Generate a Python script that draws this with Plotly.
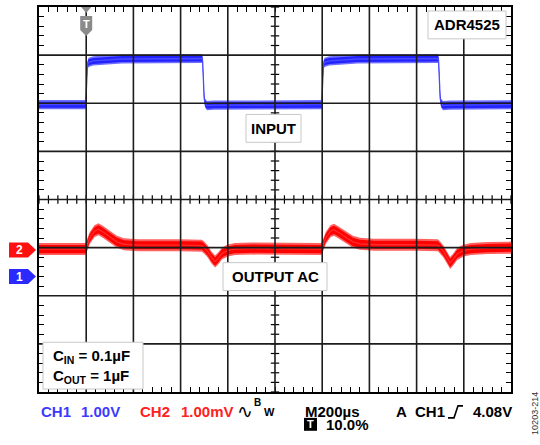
import plotly.graph_objects as go

# ---------------- data ----------------
# time base: 200 us/div, 10 divisions
time_ch1_us = [0, 198, 200, 202, 205, 210, 230, 350, 690, 693, 697, 700, 704, 712, 740, 1000,
               1198, 1200, 1202, 1205, 1210, 1230, 1350, 1690, 1693, 1697, 1700, 1704, 1712, 1740, 2000]
ch1_volts = [3.57, 3.57, 3.80, 4.20, 4.38, 4.45, 4.48, 4.52, 4.53, 4.50, 4.00, 3.70, 3.60, 3.55, 3.56, 3.57,
             3.57, 3.80, 4.20, 4.38, 4.45, 4.48, 4.52, 4.53, 4.50, 4.00, 3.70, 3.60, 3.55, 3.56, 3.57]

time_ch2_us = [0, 195, 200, 215, 235, 252, 270, 300, 330, 360, 420, 600, 690, 700, 715, 730, 746, 760,
               775, 800, 830, 900, 1000,
               1195, 1200, 1215, 1235, 1250, 1268, 1300, 1330, 1360, 1420, 1600, 1690, 1700, 1715, 1728,
               1742, 1756, 1772, 1800, 1830, 1900, 2000]
ch2_mv = [-0.03, -0.03, 0.00, 0.20, 0.34, 0.38, 0.33, 0.22, 0.12, 0.07, 0.05, 0.05, 0.04, 0.00, -0.08,
          -0.20, -0.29, -0.22, -0.12, -0.06, -0.03, -0.02, -0.02,
          -0.03, 0.00, 0.20, 0.34, 0.37, 0.32, 0.21, 0.12, 0.08, 0.06, 0.06, 0.05, 0.00, -0.09, -0.20,
          -0.32, -0.24, -0.13, -0.06, -0.03, -0.01, 0.00]

bottom_labels = ["CH1", "1.00V", "CH2", "1.00mV", "M200µs", "A", "CH1", "4.08V", "10.0%"]

# ---------------- styling / geometry ----------------
W, H = 540, 445
L, R, T, B = 39, 29, 5, 53
PW, PH = W - L - R, H - T - B
X_RANGE = [0, 2000]
CH2_RANGE = [-3, 5]        # 1 mV/div, offset -1 div
CH1_RANGE = [-2.4, 5.6]    # 1 V/div, offset -1.6 div
BLUE = "#2222ff"
BLUE_FR = "#6f6fff"
RED = "#ff0000"
RED_FR = "#ff6060"
GRID = "#1c1c1c"
FONT = "Liberation Sans, Arial, sans-serif"


def px(x):
    return (x - L) / PW


def py(y):
    return (H - B - y) / PH


def band(fig, t, v, core, fringe, c_core, c_fr, c_line, yaxis):
    for hw, col in ((fringe, c_fr), (core, c_core)):
        fig.add_trace(go.Scatter(x=t, y=[a - hw for a in v], mode="lines", line=dict(width=0),
                                 yaxis=yaxis, hoverinfo="skip", showlegend=False))
        fig.add_trace(go.Scatter(x=t, y=[a + hw for a in v], mode="lines", line=dict(width=0),
                                 fill="tonexty", fillcolor=col, yaxis=yaxis,
                                 hoverinfo="skip", showlegend=False))
    fig.add_trace(go.Scatter(x=t, y=v, mode="lines", line=dict(width=1.3, color=c_line),
                             yaxis=yaxis, hoverinfo="skip", showlegend=False))


fig = go.Figure()
band(fig, time_ch1_us, ch1_volts, 0.062, 0.095, BLUE, BLUE_FR, "#4a4aff", "y2")
band(fig, time_ch2_us, ch2_mv, 0.085, 0.125, RED, RED_FR, "#ff2a2a", "y")

# center crosshair ticks
cx = [X_RANGE[0] + 40 * i for i in range(51)]
fig.add_trace(go.Scatter(x=cx, y=[1] * len(cx), mode="markers", yaxis="y",
                         marker=dict(symbol="line-ns", size=6, line=dict(width=1.2, color="black")),
                         hoverinfo="skip", showlegend=False))
cy = [CH2_RANGE[0] + 0.2 * i for i in range(41)]
fig.add_trace(go.Scatter(x=[1000] * len(cy), y=cy, mode="markers", yaxis="y",
                         marker=dict(symbol="line-ew", size=6, line=dict(width=1.2, color="black")),
                         hoverinfo="skip", showlegend=False))

shapes = []
for k in range(1, 10):
    shapes.append(dict(type="line", xref="x", yref="paper", x0=200 * k, x1=200 * k, y0=0, y1=1,
                       line=dict(color=GRID, width=1.6), layer="above"))
for k in range(1, 8):
    shapes.append(dict(type="line", xref="paper", yref="y", x0=0, x1=1, y0=CH2_RANGE[0] + k,
                       y1=CH2_RANGE[0] + k, line=dict(color=GRID, width=1.6), layer="above"))


def rect(x0, y0, x1, y1):
    shapes.append(dict(type="rect", xref="paper", yref="paper", x0=px(x0), x1=px(x1), y0=py(y1), y1=py(y0),
                       fillcolor="white", line=dict(color="#c8c8c8", width=1), layer="above"))


rect(428, 9, 506, 37)
rect(246, 113, 301, 141)
rect(223, 262, 327, 290)
rect(43, 342, 143, 389)

# channel markers
shapes.append(dict(type="path", xref="paper", yref="y", xsizemode="pixel", ysizemode="pixel",
                   xanchor=0, yanchor=-0.05, path="M -30,7.5 L -11,7.5 L -3,0 L -11,-7.5 L -30,-7.5 Z",
                   fillcolor="#ff1010", line=dict(width=0), layer="above"))
shapes.append(dict(type="path", xref="paper", yref="y2", xsizemode="pixel", ysizemode="pixel",
                   xanchor=0, yanchor=0, path="M -30,7.5 L -11,7.5 L -3,0 L -11,-7.5 L -30,-7.5 Z",
                   fillcolor="#2a2aff", line=dict(width=0), layer="above"))
# trigger marker
shapes.append(dict(type="path", xref="x", yref="paper", xsizemode="pixel", ysizemode="pixel",
                   xanchor=200, yanchor=1, path="M -5,0 L 5,0 L 0,-6 Z",
                   fillcolor="#8a8a8a", line=dict(width=0), layer="above"))
shapes.append(dict(type="path", xref="x", yref="paper", xsizemode="pixel", ysizemode="pixel",
                   xanchor=200, yanchor=1,
                   path="M -6,-9 L 6,-9 L 6,-23 L 0,-29 L -6,-23 Z",
                   fillcolor="#8a8a8a", line=dict(width=0), layer="above"))
# trigger slope glyph in the status line
shapes.append(dict(type="path", xref="paper", yref="paper", xsizemode="pixel", ysizemode="pixel",
                   xanchor=px(448), yanchor=py(418),
                   path="M 0,0 L 6,0 L 10,12 L 15,12", line=dict(color="black", width=1.6)))
# black trigger-position box
shapes.append(dict(type="rect", xref="paper", yref="paper", x0=px(304), x1=px(317), y0=py(431), y1=py(418),
                   fillcolor="black", line=dict(width=0)))

ann = []


def text(s, x, y, color="black", size=15, xanchor="left", bold=True, **kw):
    ann.append(dict(text=f"<b>{s}</b>" if bold else s, x=px(x), y=py(y), xref="paper", yref="paper",
                    xanchor=xanchor, yanchor="middle", showarrow=False,
                    font=dict(family=FONT, size=size, color=color), **kw))


text("ADR4525", 467, 23, xanchor="center")
text("INPUT", 273.5, 127, xanchor="center")
text("OUTPUT AC", 275, 276, xanchor="center")
ann.append(dict(text="<b>C<sub>IN</sub> = 0.1µF<br>C<sub>OUT</sub> = 1µF</b>", x=px(51), y=py(366),
                xref="paper", yref="paper", xanchor="left", yanchor="middle", align="left",
                showarrow=False, font=dict(family=FONT, size=15, color="black")))

# marker labels
ann.append(dict(text="<b>2</b>", x=0, y=-0.05, xref="paper", yref="y", xshift=-20, showarrow=False,
                xanchor="center", yanchor="middle", font=dict(family=FONT, size=12, color="white")))
ann.append(dict(text="<b>1</b>", x=0, y=0, xref="paper", yref="y2", xshift=-20, showarrow=False,
                xanchor="center", yanchor="middle", font=dict(family=FONT, size=12, color="white")))
ann.append(dict(text="<b>T</b>", x=200, y=1, xref="x", yref="paper", yshift=-17, showarrow=False,
                xanchor="center", yanchor="middle", font=dict(family=FONT, size=11, color="white")))

# status line
text(bottom_labels[0], 39, 412, color="#3b3bff")
text(bottom_labels[1], 79, 412, color="#3b3bff")
text(bottom_labels[2], 138, 412, color="#ff2020")
text(bottom_labels[3], 179, 412, color="#ff2020")
text("∿", 235, 411, size=19, bold=False, font_family="DejaVu Sans")
text("B", 252, 403, size=10)
text("W", 262, 412, size=11)
text(bottom_labels[4], 303, 412)
text(bottom_labels[5], 394, 412)
text(bottom_labels[6], 413, 412)
text(bottom_labels[7], 471, 412)
ann.append(dict(text="<b>T</b>", x=px(310.5), y=py(424.5), xref="paper", yref="paper", showarrow=False,
                xanchor="center", yanchor="middle", font=dict(family=FONT, size=11, color="white")))
text(bottom_labels[8], 324, 425)
text("10203-214", 535, 414, size=9, bold=False, color="#333333", xanchor="center", textangle=-90)

axis_common = dict(showgrid=False, zeroline=False, showticklabels=False, ticks="inside", ticklen=5,
                   tickwidth=1.2, tickcolor="black", showline=True, linecolor="black", linewidth=2,
                   mirror="ticks", fixedrange=True)

fig.update_layout(
    width=W, height=H, margin=dict(l=L, r=R, t=T, b=B),
    paper_bgcolor="white", plot_bgcolor="white", showlegend=False,
    xaxis=dict(range=X_RANGE, dtick=200, tick0=0,
               minor=dict(dtick=40, ticks="inside", ticklen=5, tickwidth=1.2, tickcolor="black",
                          showgrid=False), **axis_common),
    yaxis=dict(range=CH2_RANGE, dtick=1, tick0=0,
               minor=dict(dtick=0.2, ticks="inside", ticklen=5, tickwidth=1.2, tickcolor="black",
                          showgrid=False), **axis_common),
    yaxis2=dict(range=CH1_RANGE, overlaying="y", visible=False, fixedrange=True),
    shapes=shapes, annotations=ann,
)

fig.write_html("out.html", config={"displayModeBar": False},
               post_script="document.body.style.margin='0px';document.body.style.padding='0px';")
